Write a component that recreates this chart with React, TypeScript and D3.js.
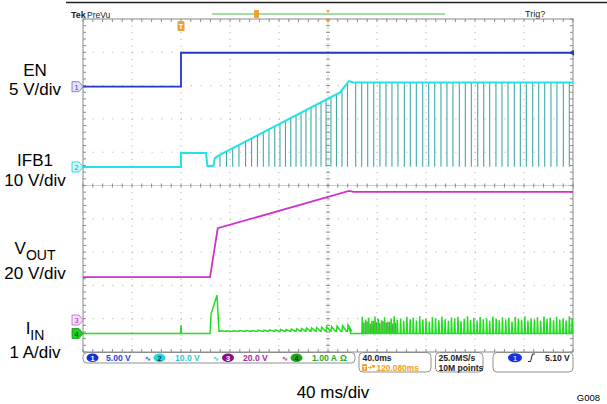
import React from "react";
import * as d3 from "d3";

// ---- data (time in ms, trigger at 0; 40 ms/div) ----
const timeDomain = [-80, 320];
const enT = [-80, 0, 0, 320];
const enV = [0, 0, 5.1, 5.1];
const trigLevel = 5.1;

const ifbEnvT = [-80, 0, 0, 20.4, 21.6, 26.4, 27.6, 30.5, 129.8, 137.1, 140.5, 320];
const ifbEnvV = [0, 0, 4.2, 4.2, 0.3, 0.3, 2.6, 3.4, 22.4, 25.8, 25.4, 25.4];
const ifbPulseT = [
  31.8, 37.1, 42.2, 47.3, 52.7, 57.6, 62.4, 67.2, 71.8, 76.5, 80.8, 85.3, 89.6, 93.9, 98.0, 102.0,
  106.1, 110.2, 114.3, 118.4, 122.4, 126.9, 131.4, 135.9,
  142.6, 147.5, 152.4, 157.3, 162.4, 167.3, 172.2, 177.1, 182.3, 187.2, 192.1, 197.3, 202.2, 207.1,
  212.2, 217.1, 222.0, 227.2, 232.1, 237.0, 242.2, 247.1, 252.0, 257.1, 262.0, 266.9, 272.1, 277.0,
  281.9, 287.1, 292.0, 296.9, 302.0, 306.9, 312.1, 317.0,
];

const voutT = [-80, 23.7, 30.0, 137.1, 141.0, 320];
const voutV = [25.8, 25.8, 55.1, 77.5, 76.9, 76.9];

const iinStartT = [-80, -0.4, 0, 0.4, 23.7, 24.6, 29.4, 31.0];
const iinStartA = [0, 0, 0.25, 0, 0, 0.6, 1.15, 0.07];
const iinRampBase = 0.07;
const iinToothA = [
  0.08, 0.08, 0.08, 0.09, 0.09, 0.09, 0.1, 0.1, 0.11, 0.11, 0.12, 0.12, 0.13, 0.14, 0.15, 0.16,
  0.17, 0.18, 0.19, 0.2, 0.21, 0.22, 0.24, 0.26,
];
const iinSpikeT = [
  148.0, 150.7, 153.2, 155.9, 158.4, 161.0, 163.7, 166.2, 168.8, 171.5, 174.0, 176.6, 179.3, 181.8,
  184.4, 187.1, 189.6, 192.2, 194.9, 197.4, 200.0, 202.7, 205.2, 207.8, 210.5, 213.0, 215.6, 218.3,
  220.8, 223.4, 226.1, 228.6, 231.2, 233.9, 236.4, 239.0, 241.7, 244.2, 246.8, 249.5, 252.0, 254.6,
  257.3, 259.8, 262.4, 265.1, 267.6, 270.2, 272.9, 275.4, 278.0, 280.7, 283.2, 285.8, 288.5, 291.0,
  293.6, 296.3, 298.8, 301.4, 304.1, 306.6, 309.2, 311.9, 314.4, 317.0, 319.3,
];
const iinSpikeA = [
  0.5, 0.42, 0.47, 0.38, 0.51, 0.44, 0.4, 0.49, 0.36, 0.46, 0.52, 0.41, 0.45, 0.38, 0.5, 0.43, 0.47,
  0.39, 0.52, 0.42, 0.44, 0.36, 0.49, 0.46, 0.4, 0.51, 0.43, 0.38, 0.48, 0.45, 0.5, 0.37, 0.44, 0.52,
  0.41, 0.47, 0.39, 0.5, 0.43, 0.46, 0.38, 0.51, 0.44, 0.4, 0.49, 0.42, 0.47, 0.36, 0.5, 0.45, 0.41,
  0.52, 0.39, 0.46, 0.43, 0.49, 0.38, 0.51, 0.44, 0.47, 0.4, 0.5, 0.42, 0.46, 0.39, 0.52, 0.45,
];
const iinBurstT = [149.3, 151.9, 154.5, 157.1, 159.7, 162.3, 164.9, 167.5, 170.1, 172.7, 175.3];
const iinBurstA = [0.33, 0.36, 0.3, 0.38, 0.34, 0.31, 0.37, 0.33, 0.35, 0.3, 0.32];

const chanLabels = ["EN", "IFB1", "V", "I"];
const chanSubs = ["", "", "OUT", "IN"];
const chanScales = ["5 V/div", "10 V/div", "20 V/div", "1 A/div"];
const statusVals = ["5.00 V", "10.0 V", "20.0 V", "1.00 A"];

// ---- layout ----
const W = 607, H = 404;
const L = 83, R = 573, T = 19, B = 352;
const divX = (R - L) / 10;
const divY = (B - T) / 10;
const CY = T + 5 * divY;
const CX = L + 5 * divX;

const C_EN = "#2236c8";
const C_IFB = "#1ee6e6";
const C_IFBP = "#43a9a9";
const C_VOUT = "#d030d0";
const C_IIN = "#22dd22";
const FONT = "'Liberation Sans', Arial, sans-serif";

const x = d3.scaleLinear().domain(timeDomain).range([L, R]);
const chan = (ground: number, perDiv: number) =>
  d3.scaleLinear().domain([0, perDiv]).range([ground, ground - divY]);
const yEN = chan(86.7, 5);
const yIFB = chan(167, 10);
const yVOUT = chan(320, 20);
const yIIN = chan(333.5, 1);

function zip(a: number[], b: number[]): [number, number][] {
  const n = Math.min(a.length, b.length);
  const out: [number, number][] = [];
  for (let i = 0; i < n; i++) out.push([a[i], b[i]]);
  return out;
}
function envAt(t: number) {
  for (let i = 0; i < ifbEnvT.length - 1; i++) {
    const t0 = ifbEnvT[i], t1 = ifbEnvT[i + 1];
    if (t >= t0 && t <= t1 && t1 > t0) {
      return ifbEnvV[i] + ((t - t0) / (t1 - t0)) * (ifbEnvV[i + 1] - ifbEnvV[i]);
    }
  }
  return ifbEnvV[ifbEnvV.length - 1];
}

function lineFor(yS: d3.ScaleLinear<number, number>) {
  return d3.line<[number, number]>().x((d) => x(d[0])).y((d) => yS(d[1]));
}

export default function App() {
  // IIN path
  const iinPts: [number, number][] = zip(iinStartT, iinStartA);
  const rampPulses = ifbPulseT.filter((t) => t < 138);
  rampPulses.forEach((t, i) => {
    const a = iinToothA[i] ?? iinRampBase;
    iinPts.push([t, iinRampBase], [t + 0.5, a], [t + 3.6, iinRampBase]);
  });
  iinPts.push([137.6, iinRampBase + 0.05], [138.6, 0]);
  const spikes = zip(iinSpikeT, iinSpikeA);
  spikes.forEach(([t, a]) => {
    iinPts.push([t - 0.35, 0], [t, a], [t + 0.45, 0]);
  });
  iinPts.push([320, 0]);

  const hLines = d3.range(1, 10).filter((k) => k !== 5);
  const vLines = d3.range(1, 10).filter((k) => k !== 5);
  const minorX = d3.range(0, 51).map((k) => L + (k * divX) / 5);
  const minorY = d3.range(0, 51).map((k) => T + (k * divY) / 5);

  const markers = [
    { y: yEN(0), n: "1", fill: "#e4e4ff", stroke: "#6a6ad0", tc: "#3a3ab0" },
    { y: yIFB(0), n: "2", fill: "#c8ffff", stroke: "#22c8c8", tc: "#109090" },
    { y: yVOUT(0), n: "3", fill: "#fbe0fb", stroke: "#c060c0", tc: "#a030a0" },
    { y: yIIN(0), n: "4", fill: "#22cc22", stroke: "#119911", tc: "#033" },
  ];

  const labelY = [
    [76, 95],
    [166, 186],
    [254, 279],
    [334, 358],
  ];

  const statusX = [
    { ex: 92.5, tx: 106, sx: 145, fill: "#1530e0", tc: "#fff", vc: "#2a44d8" },
    { ex: 159.5, tx: 175, sx: 213, fill: "#22d8d8", tc: "#035", vc: "#2ccccc" },
    { ex: 228, tx: 243, sx: 282, fill: "#8a0a8a", tc: "#fff", vc: "#a02aa0" },
    { ex: 296.5, tx: 312, sx: -1, fill: "#1aa81a", tc: "#031", vc: "#22aa22" },
  ];

  return (
    <svg
      width={W}
      height={H}
      viewBox={`0 0 ${W} ${H}`}
      style={{ position: "absolute", left: 0, top: 0, background: "#fff" }}
      fontFamily={FONT}
    >
      <rect x={0} y={0} width={W} height={H} fill="#fff" />
      {/* top bar */}
      <line x1={66} x2={607} y1={2.5} y2={2.5} stroke="#222" strokeWidth={1.5} />
      <text x={71} y={18} fontSize={9} fontWeight="bold" fill="#222">Tek</text>
      <text x={87} y={18} fontSize={8.5} fill="#222">PreVu</text>
      <text x={525} y={17} fontSize={9} fill="#222">Trig?</text>
      <line x1={212} x2={445} y1={14} y2={14} stroke="#86d086" strokeWidth={1.5} />
      <rect x={254} y={10} width={5} height={8} rx={1} fill="#f0a030" />
      <path d={`M${CX - 2},10 L${CX + 2},10 L${CX},13 Z`} fill="#f0a030" />

      {/* grid */}
      {hLines.map((k) => (
        <line key={"h" + k} x1={L} x2={R} y1={T + k * divY} y2={T + k * divY}
          stroke="#a8a8a8" strokeWidth={1} strokeDasharray={`1 ${divX / 5 - 1}`} />
      ))}
      {vLines.map((k) => (
        <line key={"v" + k} x1={L + k * divX} x2={L + k * divX} y1={T} y2={B}
          stroke="#a8a8a8" strokeWidth={1} strokeDasharray={`1 ${divY / 5 - 1}`} />
      ))}
      <line x1={L} x2={R} y1={CY} y2={CY} stroke="#cfcfcf" strokeWidth={1} />
      <line x1={CX} x2={CX} y1={T} y2={B} stroke="#cfcfcf" strokeWidth={1} strokeDasharray="2 2" />
      {minorX.map((px, i) => (
        <g key={"mx" + i} stroke="#8a8a8a" strokeWidth={1}>
          <line x1={px} x2={px} y1={T} y2={T + 3} />
          <line x1={px} x2={px} y1={B} y2={B - 3} />
          <line x1={px} x2={px} y1={CY - 2} y2={CY + 2} />
        </g>
      ))}
      {minorY.map((py, i) => (
        <g key={"my" + i} stroke="#8a8a8a" strokeWidth={1}>
          <line x1={L} x2={L + 3} y1={py} y2={py} />
          <line x1={R} x2={R - 3} y1={py} y2={py} />
          <line x1={CX - 2} x2={CX + 2} y1={py} y2={py} />
        </g>
      ))}
      <rect x={L} y={T} width={R - L} height={B - T} fill="none" stroke="#8a8a8a" strokeWidth={1} />

      {/* expansion & trigger markers */}
      <path d={`M${CX - 3},${T} L${CX + 3},${T} L${CX},${T + 4} Z`} fill="#f0a030" />
      <rect x={x(0) - 3.5} y={21} width={7} height={10} rx={1.5} fill="#f0a030" />
      <text x={x(0)} y={29} fontSize={7} fill="#fff" textAnchor="middle" fontWeight="bold">T</text>

      {/* IFB1 pulses */}
      {ifbPulseT.map((t, i) => (
        <line key={"p" + i} x1={x(t)} x2={x(t)} y1={yIFB(envAt(t))} y2={yIFB(0.1)}
          stroke={C_IFBP} strokeWidth={1.1} />
      ))}
      <path d={lineFor(yIFB)(zip(ifbEnvT, ifbEnvV)) || ""} fill="none" stroke={C_IFB} strokeWidth={2} />

      {/* EN */}
      <path d={lineFor(yEN)(zip(enT, enV)) || ""} fill="none" stroke={C_EN} strokeWidth={1.8} />
      <path d={`M${R + 1},${yEN(trigLevel) - 3} L${R - 4},${yEN(trigLevel)} L${R + 1},${yEN(trigLevel) + 3} Z`} fill={C_EN} />

      {/* VOUT */}
      <path d={lineFor(yVOUT)(zip(voutT, voutV)) || ""} fill="none" stroke={C_VOUT} strokeWidth={1.8} />

      {/* IIN burst + main */}
      {zip(iinBurstT, iinBurstA).map(([t, a], i) => (
        <line key={"b" + i} x1={x(t)} x2={x(t)} y1={yIIN(0)} y2={yIIN(a)} stroke="#6c9a52" strokeWidth={1.6} />
      ))}
      <path d={lineFor(yIIN)(iinPts) || ""} fill="none" stroke={C_IIN} strokeWidth={1.5} />

      {/* channel ground markers */}
      {markers.map((m, i) => (
        <g key={"m" + i}>
          <path d={`M72,${m.y - 5} L79,${m.y - 5} L83,${m.y} L79,${m.y + 5} L72,${m.y + 5} Z`}
            fill={m.fill} stroke={m.stroke} strokeWidth={0.8} />
          <text x={76.5} y={m.y + 3} fontSize={7.5} textAnchor="middle" fill={m.tc}>{m.n}</text>
        </g>
      ))}

      {/* left labels */}
      {chanLabels.map((lab, i) => (
        <g key={"l" + i} fontSize={17} fill="#000">
          <text x={35} y={labelY[i][0]} textAnchor="middle">
            {lab}
            {chanSubs[i] ? <tspan fontSize={14} dy={6}>{chanSubs[i]}</tspan> : null}
          </text>
          <text x={35} y={labelY[i][1]} textAnchor="middle">{chanScales[i]}</text>
        </g>
      ))}

      {/* status bar */}
      <rect x={83} y={352.5} width={272} height={10.5} rx={4} fill="#fff" stroke="#777" strokeWidth={0.8} />
      {statusX.map((s, i) => (
        <g key={"s" + i} fontSize={8.6} fontWeight="bold">
          <ellipse cx={s.ex} cy={357.7} rx={6} ry={4.3} fill={s.fill} />
          <text x={s.ex} y={360.5} fontSize={7.5} textAnchor="middle" fill={s.tc}>{i + 1}</text>
          <text x={s.tx} y={361} fill={s.vc}>{statusVals[i]}</text>
          {s.sx > 0 ? <text x={s.sx} y={361} fontSize={7} fill={s.vc}>∿</text> : null}
        </g>
      ))}
      <text x={340} y={361} fontSize={8.6} fontWeight="bold" fill="#22aa22">Ω</text>

      <rect x={359} y={352.5} width={72} height={19.5} rx={4} fill="#fff" stroke="#777" strokeWidth={0.8} />
      <text x={362.5} y={361} fontSize={8.6} fontWeight="bold" fill="#222">40.0ms</text>
      <rect x={362} y={364} width={5} height={7} rx={1} fill="#f0a030" />
      <text x={364.5} y={370} fontSize={6} fill="#fff" textAnchor="middle" fontWeight="bold">T</text>
      <path d="M368,367.5 L371,367.5 M370,366 L371.5,367.5 L370,369 M372,365.5 L375,365.5 L373.5,368 Z"
        fill="#f0a030" stroke="#f0a030" strokeWidth={0.8} />
      <text x={376.5} y={370.5} fontSize={8.4} fontWeight="bold" fill="#f0a020">120.080ms</text>

      <rect x={435.5} y={352.5} width={47.5} height={19.5} rx={4} fill="#fff" stroke="#777" strokeWidth={0.8} />
      <text x={438.5} y={361} fontSize={8.6} fontWeight="bold" fill="#222">25.0MS/s</text>
      <text x={438.5} y={370.5} fontSize={8.6} fontWeight="bold" fill="#222">10M points</text>

      <rect x={493} y={352.5} width={80} height={19.5} rx={4} fill="#fff" stroke="#777" strokeWidth={0.8} />
      <ellipse cx={515} cy={357.7} rx={7} ry={4.5} fill="#1530e0" />
      <text x={515} y={360.5} fontSize={7.5} textAnchor="middle" fill="#fff">1</text>
      <path d="M528,361.5 L530.5,361.5 L532.5,354 L535,354" fill="none" stroke="#222" strokeWidth={1} />
      <text x={545} y={361} fontSize={8.6} fontWeight="bold" fill="#222">5.10 V</text>

      {/* bottom captions */}
      <text x={333} y={398} fontSize={17} textAnchor="middle" fill="#000">40 ms/div</text>
      <text x={600} y={401} fontSize={9.5} textAnchor="end" fill="#000">G008</text>
    </svg>
  );
}
